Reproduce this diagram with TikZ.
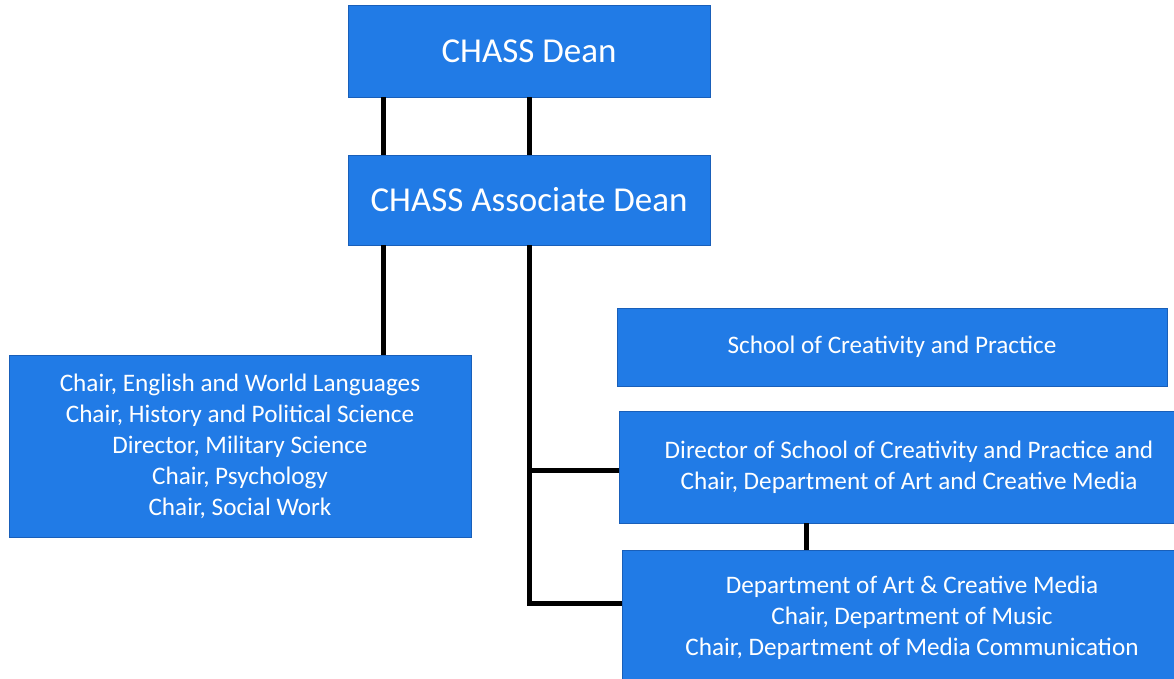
\documentclass[tikz,border=0pt]{standalone}
\usepackage{fontspec}
\setmainfont{Carlito}
\usetikzlibrary{positioning}

\definecolor{boxblue}{RGB}{33,123,230}
\definecolor{boxedge}{RGB}{25,95,185}

\tikzset{
  unitbox/.style={draw=boxedge, line width=0.8pt, fill=boxblue, text=white,
    align=center, inner sep=0pt},
  bigtext/.style={font=\fontsize{35}{42}\selectfont},
  smalltext/.style={font=\fontsize{25.2}{31}\selectfont},
  link/.style={line width=5pt, black}
}

\begin{document}
\begin{tikzpicture}[x=1pt,y=-1pt]
\useasboundingbox (0,0) rectangle (1174,678);

% top of the chart
\node[unitbox,bigtext,minimum width=362pt,minimum height=92pt] (dean) at (529,51) {CHASS Dean};
\node[unitbox,bigtext,minimum width=362pt,minimum height=90pt] (assoc) at (529,200) {CHASS Associate Dean};

% left branch
\node[unitbox,smalltext,minimum width=462pt,minimum height=182pt] (chairs) at (240,446)
  {Chair, English and World Languages\\Chair, History and Political Science\\Director, Military Science\\Chair, Psychology\\Chair, Social Work};

% right branch
\node[unitbox,smalltext,minimum width=550pt,minimum height=78pt] (school) at (892,347) {School of Creativity and Practice};
\node[unitbox,smalltext,minimum width=580pt,minimum height=112pt] (director) at (909,467)
  {Director of School of Creativity and Practice and\\Chair, Department of Art and Creative Media};
\node[unitbox,smalltext,minimum width=580pt,minimum height=136pt] (dept) at (912,618)
  {Department of Art \& Creative Media\\Chair, Department of Music\\Chair, Department of Media Communication};

% connectors
\coordinate (deanleft) at ([xshift=-146pt]dean.south);
\coordinate (assocleft) at ([xshift=-146pt]assoc.south);
\coordinate (dirfoot) at ([xshift=-103pt]director.south);

\draw[link] (deanleft) -- (deanleft |- assoc.north);
\draw[link] (dean.south) -- (assoc.north);
\draw[link] (assocleft) -- (assocleft |- chairs.north);
\draw[link] (assoc.south) |- ([yshift=-3pt]director.west);
\draw[link] (assoc.south) |- ([yshift=15pt]dept.west);
\draw[link] (dirfoot) -- (dirfoot |- dept.north);
\end{tikzpicture}
\end{document}
